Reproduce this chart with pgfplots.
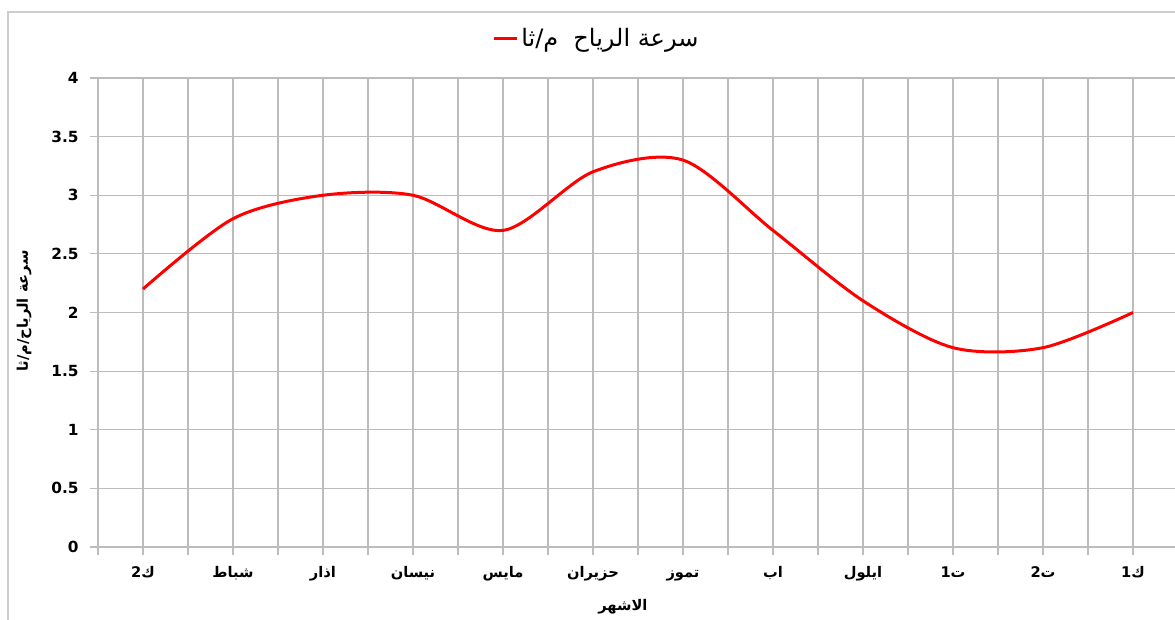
\documentclass[border=0pt]{standalone}
\usepackage{fontspec}
\usepackage{pgfplots}
\pgfplotsset{compat=1.18}
\setmainfont{DejaVu Sans}
\newfontfamily\arabicfont[Script=Arabic]{DejaVu Sans}
\TeXXeTstate=1
\newcommand{\ar}[1]{{\arabicfont\beginR #1\endR}}
\definecolor{gridc}{RGB}{188,188,188}
\definecolor{framec}{RGB}{205,205,205}
\begin{document}
\begin{tikzpicture}
\useasboundingbox (0pt,0pt) rectangle (881.25pt,464.25pt);
\draw[framec, line width=1.2pt] (6pt,-20pt) -- (6pt,455.25pt) -- (940pt,455.25pt);
\begin{axis}[
  at={(73.5pt,54pt)}, anchor=south west,
  scale only axis, width=810pt, height=351.75pt,
  xmin=-0.5, xmax=11.5, ymin=0, ymax=4,
  xtick={0,...,11},
  xticklabels={\ar{ك2},\ar{شباط},\ar{اذار},\ar{نيسان},\ar{مايس},\ar{حزيران},\ar{تموز},\ar{اب},\ar{ايلول},\ar{ت1},\ar{ت2},\ar{ك1}},
  minor xtick={-0.5,0.5,...,11.5},
  ytick={0,0.5,...,4},
  grid=both,
  major grid style={gridc, line width=0.9pt},
  minor grid style={gridc, line width=0.9pt},
  axis line style={gridc, line width=0.9pt},
  tick style={gridc, line width=0.9pt},
  tick align=outside, tick pos=left,
  major tick length=6pt, minor tick length=6pt,
  /pgf/number format/assume math mode=true,
  yticklabel style={font=\bfseries\fontsize{11.5}{14}\selectfont, xshift=-5pt},
  xticklabel style={font=\arabicfont\bfseries\fontsize{11}{13}\selectfont, anchor=base, text height=9pt, text depth=3pt, yshift=-17pt},
  xlabel={\ar{الاشهر}},
  xlabel style={font=\arabicfont\bfseries\fontsize{11}{13}\selectfont, at={(axis description cs:0.486,-0.128)}, anchor=center},
  ylabel={{\arabicfont\beginR سرعة الرياح/م/ثا\endR}},
  ylabel style={font=\arabicfont\bfseries\fontsize{11}{13}\selectfont, at={(axis description cs:-0.0685,0.503)}, anchor=center},
  legend style={at={(axis description cs:0.462,1.085)}, anchor=center, draw=none, fill=none,
    font=\arabicfont\fontsize{18}{21}\selectfont, inner sep=0pt},
  legend image code/.code={\draw[#1] (0pt,0pt) -- (17pt,0pt);},
]
\addplot[red, line width=2.25pt, smooth, tension=0.5] coordinates {
(0,2.2) (1,2.8) (2,3.0) (3,3.0) (4,2.7) (5,3.2) (6,3.3) (7,2.7) (8,2.1) (9,1.7) (10,1.7) (11,2.0)};
\addlegendentry{{\arabicfont\beginR سرعة الرياح\ \ م/ثا\endR}}
\end{axis}
\end{tikzpicture}
\end{document}
